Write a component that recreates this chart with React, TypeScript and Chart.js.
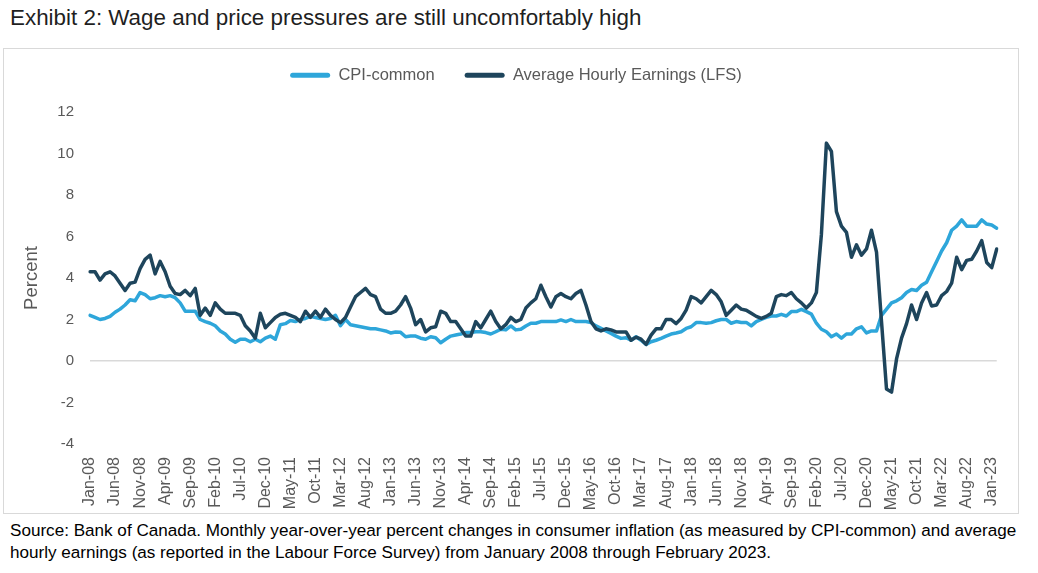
import React, { useEffect, useRef } from 'react';
import { Chart, registerables } from 'chart.js';

Chart.register(...registerables);

// ---------- data ----------
const MONTHS = ['Jan', 'Feb', 'Mar', 'Apr', 'May', 'Jun', 'Jul', 'Aug', 'Sep', 'Oct', 'Nov', 'Dec'];
const YEARS = ['08', '09', '10', '11', '12', '13', '14', '15', '16', '17', '18', '19', '20', '21', '22', '23'];
const N_POINTS = 182; // Jan-08 .. Feb-23

const categories: string[] = [];
for (const y of YEARS) {
  for (const m of MONTHS) {
    if (categories.length < N_POINTS) categories.push(`${m}-${y}`);
  }
}

const TICK_EVERY = 5;

// CPI-common, y/y %
const cpiCommon: number[] = [
  2.2, 2.1, 2.0, 2.05, 2.15, 2.35, 2.5, 2.7, 2.95, 2.9, 3.3, 3.2, // 2008
  3.0, 3.05, 3.15, 3.1, 3.15, 3.05, 2.8, 2.4, 2.4, 2.4, 2.0, 1.9, // 2009
  1.82, 1.7, 1.45, 1.3, 1.05, 0.9, 1.05, 1.05, 0.93, 1.05, 0.93, 1.1, // 2010
  1.2, 1.05, 1.75, 1.8, 1.95, 1.9, 2.0, 2.05, 2.15, 2.1, 2.05, 2.0, // 2011
  2.05, 2.2, 1.7, 2.0, 1.75, 1.7, 1.65, 1.6, 1.55, 1.55, 1.5, 1.45, // 2012
  1.35, 1.4, 1.38, 1.17, 1.2, 1.2, 1.1, 1.05, 1.17, 1.12, 0.88, 1.05, // 2013
  1.2, 1.25, 1.3, 1.37, 1.37, 1.41, 1.41, 1.37, 1.3, 1.41, 1.53, 1.5, // 2014
  1.69, 1.5, 1.53, 1.69, 1.82, 1.82, 1.9, 1.9, 1.9, 1.9, 1.98, 1.9, // 2015
  2.0, 1.9, 1.9, 1.9, 1.85, 1.69, 1.57, 1.45, 1.33, 1.2, 1.09, 1.12, // 2016
  1.0, 1.17, 1.0, 0.8, 0.93, 1.0, 1.09, 1.2, 1.3, 1.35, 1.41, 1.57, // 2017
  1.65, 1.85, 1.85, 1.82, 1.85, 1.94, 2.0, 2.0, 1.82, 1.9, 1.86, 1.86, // 2018
  1.69, 1.9, 2.0, 2.1, 2.17, 2.17, 2.25, 2.17, 2.38, 2.38, 2.49, 2.38, // 2019
  2.26, 1.82, 1.53, 1.41, 1.17, 1.3, 1.1, 1.3, 1.3, 1.55, 1.65, 1.35, // 2020
  1.45, 1.45, 2.2, 2.5, 2.8, 2.9, 3.05, 3.3, 3.45, 3.4, 3.65, 3.8, // 2021
  4.3, 4.8, 5.3, 5.7, 6.3, 6.5, 6.8, 6.5, 6.5, 6.5, 6.8, 6.6, // 2022
  6.55, 6.4, // 2023
];

// Average Hourly Earnings (LFS), y/y %
const ahe: number[] = [
  4.3, 4.3, 3.9, 4.2, 4.3, 4.1, 3.75, 3.4, 3.75, 3.8, 4.45, 4.9, // 2008
  5.1, 4.2, 4.8, 4.3, 3.6, 3.25, 3.2, 3.4, 3.15, 3.5, 2.2, 2.55, // 2009
  2.2, 2.8, 2.5, 2.3, 2.3, 2.3, 2.2, 1.7, 1.45, 1.1, 2.3, 1.6, // 2010
  1.85, 2.1, 2.25, 2.3, 2.2, 2.1, 1.9, 2.4, 2.1, 2.4, 2.1, 2.5, // 2011
  2.2, 2.0, 1.85, 2.1, 2.6, 3.1, 3.3, 3.5, 3.2, 3.1, 2.5, 2.3, // 2012
  2.3, 2.4, 2.7, 3.1, 2.55, 1.75, 2.0, 1.4, 1.6, 1.65, 2.4, 2.3, // 2013
  1.9, 1.9, 1.55, 1.2, 1.2, 1.9, 1.6, 2.0, 2.4, 1.9, 1.55, 1.75, // 2014
  2.1, 1.9, 2.0, 2.55, 2.8, 3.0, 3.65, 3.1, 2.6, 3.1, 3.25, 3.1, // 2015
  3.0, 3.25, 3.4, 2.7, 1.9, 1.55, 1.45, 1.55, 1.5, 1.4, 1.4, 1.4, // 2016
  1.0, 1.15, 1.05, 0.8, 1.25, 1.55, 1.55, 2.0, 2.0, 1.8, 2.05, 2.45, // 2017
  3.1, 3.0, 2.8, 3.1, 3.4, 3.2, 2.85, 2.2, 2.45, 2.7, 2.5, 2.45, // 2018
  2.3, 2.15, 2.05, 2.15, 2.3, 3.1, 3.2, 3.15, 3.3, 3.0, 2.8, 2.55, // 2019
  2.8, 3.3, 6.1, 10.5, 10.1, 7.2, 6.5, 6.2, 5.0, 5.6, 5.1, 5.4, // 2020
  6.3, 5.25, 1.9, -1.35, -1.5, 0.1, 1.1, 1.8, 2.7, 2.0, 2.8, 3.3, // 2021
  2.65, 2.7, 3.15, 3.35, 3.75, 5.0, 4.4, 4.85, 4.9, 5.3, 5.8, 4.75, // 2022
  4.5, 5.4, // 2023
];

const SERIES_NAMES = ['CPI-common', 'Average Hourly Earnings (LFS)'];
const Y_MIN = -4;
const Y_MAX = 12;
const Y_STEP = 2;

const TITLE = 'Exhibit 2: Wage and price pressures are still uncomfortably high';
const NOTE_LINES = [
  'Source: Bank of Canada. Monthly year-over-year percent changes in consumer inflation (as measured by CPI-common) and average',
  'hourly earnings (as reported in the Labour Force Survey) from January 2008 through February 2023.',
];

// ---------- styles ----------
const FONT = '"Liberation Sans", Arial, sans-serif';
const CPI_COLOR = '#2ea6da';
const AHE_COLOR = '#1e455c';
const AXIS_TEXT = '#595959';

const CANVAS_W = 1020;
const CANVAS_H = 463;
const LEGEND_HEIGHT = 63;
const LEGEND_DX = 9;
const LEGEND_DY = -12;

const legendTweak = {
  id: 'legendTweak',
  beforeInit(chart: any) {
    const legend = chart.legend;
    if (!legend || legend.__tweaked) return;
    legend.__tweaked = true;
    const origFit = legend.fit;
    legend.fit = function () {
      origFit.call(this);
      this.height = LEGEND_HEIGHT;
    };
    const origDraw = legend.draw;
    legend.draw = function () {
      const ctx = this.ctx;
      ctx.save();
      ctx.translate(LEGEND_DX, LEGEND_DY);
      origDraw.call(this);
      ctx.restore();
    };
  },
};

function ChartCanvas() {
  const ref = useRef<HTMLCanvasElement | null>(null);

  useEffect(() => {
    if (!ref.current) return;
    const chart = new Chart(ref.current, {
      type: 'line',
      data: {
        labels: categories,
        datasets: [
          {
            label: SERIES_NAMES[0],
            data: cpiCommon,
            borderColor: CPI_COLOR,
            backgroundColor: CPI_COLOR,
            borderWidth: 3.5,
            pointRadius: 0,
            tension: 0,
            borderJoinStyle: 'round',
            borderCapStyle: 'round',
            order: 1,
          },
          {
            label: SERIES_NAMES[1],
            data: ahe,
            borderColor: AHE_COLOR,
            backgroundColor: AHE_COLOR,
            borderWidth: 3.5,
            pointRadius: 0,
            tension: 0,
            borderJoinStyle: 'round',
            borderCapStyle: 'round',
            order: 0,
          },
        ],
      },
      options: {
        responsive: false,
        animation: false,
        devicePixelRatio: 1,
        layout: { padding: { top: 0, left: 0, right: 14, bottom: 0 } },
        plugins: {
          tooltip: { enabled: false },
          legend: {
            display: true,
            position: 'top',
            labels: {
              boxWidth: 40,
              boxHeight: 5,
              padding: 30,
              color: AXIS_TEXT,
              font: { family: FONT, size: 16.5 },
              useBorderRadius: true,
              borderRadius: 2.5,
              sort: (a: any, b: any) => a.datasetIndex - b.datasetIndex,
              generateLabels: (c: any) =>
                (Chart as any).defaults.plugins.legend.labels
                  .generateLabels(c)
                  .map((l: any) => ({ ...l, lineWidth: 0 })),
            },
          },
        },
        scales: {
          x: {
            type: 'category',
            offset: false,
            grid: { display: false, drawTicks: false },
            border: { display: false },
            ticks: {
              autoSkip: false,
              minRotation: 90,
              maxRotation: 90,
              padding: 13,
              color: AXIS_TEXT,
              font: { family: FONT, size: 16 },
              callback: (_v: any, i: number) => (i % TICK_EVERY === 0 ? categories[i] : null),
            },
            afterFit: (s: any) => {
              s.height = 68;
            },
          },
          y: {
            min: Y_MIN,
            max: Y_MAX,
            grid: {
              drawTicks: false,
              lineWidth: 1.5,
              color: (ctx: any) => (ctx.tick && ctx.tick.value === 0 ? '#d9d9d9' : 'rgba(0,0,0,0)'),
            },
            border: { display: false },
            ticks: {
              stepSize: Y_STEP,
              padding: 16,
              color: AXIS_TEXT,
              font: { family: FONT, size: 15 },
            },
            title: {
              display: true,
              text: 'Percent',
              color: AXIS_TEXT,
              font: { family: FONT, size: 18.5 },
              padding: { top: 17, bottom: 0 },
            },
            afterFit: (s: any) => {
              s.width = 86;
            },
          },
        },
      } as any,
      plugins: [legendTweak],
    });
    return () => chart.destroy();
  }, []);

  return (
    <canvas
      ref={ref}
      width={CANVAS_W}
      height={CANVAS_H}
      style={{ position: 'absolute', left: 4, top: 49, width: CANVAS_W, height: CANVAS_H }}
    />
  );
}

export default function App() {
  return (
    <div
      style={{
        position: 'fixed',
        left: 0,
        top: 0,
        width: 1038,
        height: 573,
        background: '#ffffff',
        overflow: 'hidden',
        fontFamily: FONT,
      }}
    >
      <div
        style={{
          position: 'absolute',
          left: 10,
          top: 5.5,
          fontSize: 22.4,
          lineHeight: '23px',
          color: '#1f1f1f',
          whiteSpace: 'nowrap',
        }}
      >
        {TITLE}
      </div>
      <div
        style={{
          position: 'absolute',
          left: 3,
          top: 48,
          width: 1016,
          height: 466,
          boxSizing: 'border-box',
          border: '1px solid #d9d9d9',
        }}
      />
      <ChartCanvas />
      <div
        style={{
          position: 'absolute',
          left: 10,
          top: 520,
          fontSize: 17.1,
          lineHeight: '22px',
          color: '#000000',
          whiteSpace: 'nowrap',
        }}
      >
        {NOTE_LINES[0]}
        <br />
        {NOTE_LINES[1]}
      </div>
    </div>
  );
}
